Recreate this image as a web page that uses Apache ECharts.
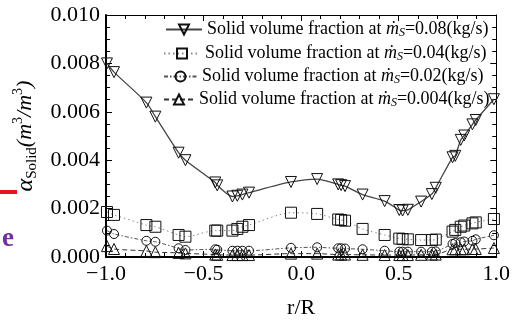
<!DOCTYPE html>
<html><head><meta charset="utf-8">
<script src="https://cdn.jsdelivr.net/npm/echarts@6/dist/echarts.min.js"></script>
<style>html,body{margin:0;padding:0;background:#fff}#c{width:513px;height:326px}</style>
</head><body><div id="c"></div>
<script>
// Radial positions r/R (shared probe positions)
var radius = [-0.995,-0.959,-0.793,-0.747,-0.628,-0.593,-0.44,-0.43,-0.352,-0.327,-0.301,-0.267,-0.052,0.082,0.19,0.205,0.225,0.315,0.428,0.503,0.52,0.547,0.615,0.67,0.69,0.776,0.79,0.818,0.836,0.878,0.895,0.988];
// Solid volume fraction for each mass flow rate
var alpha008 = [0.00800,0.00764,0.00638,0.00580,0.00431,0.00400,0.00308,0.00296,0.00250,0.00253,0.00258,0.00266,0.00310,0.00322,0.00300,0.00297,0.00293,0.00258,0.00231,0.00194,0.00192,0.00195,0.00229,0.00260,0.00286,0.00412,0.00418,0.00484,0.00502,0.00548,0.00566,0.00652];
var alpha004 = [0.00186,0.00174,0.00132,0.00125,0.00091,0.00084,0.00109,0.00109,0.00109,0.00116,0.00125,0.00132,0.00183,0.00178,0.00155,0.00153,0.00150,0.00116,0.00091,0.00076,0.00074,0.00073,0.00070,0.00070,0.00072,0.00105,0.00112,0.00125,0.00130,0.00139,0.00143,0.00157];
var alpha002 = [0.00109,0.00095,0.00067,0.00063,0.00036,0.00029,0.00032,0.00030,0.00026,0.00026,0.00026,0.00026,0.00038,0.00040,0.00036,0.00036,0.00035,0.00032,0.00026,0.00022,0.00022,0.00022,0.00022,0.00022,0.00023,0.00054,0.00058,0.00061,0.00064,0.00067,0.00073,0.00090];
var alpha0004 = [0.00045,0.00033,0.00025,0.00020,0.00017,0.00015,0.00010,0.00009,0.00008,0.00008,0.00008,0.00008,0.00014,0.00014,0.00010,0.00010,0.00010,0.00009,0.00008,0.00008,0.00008,0.00008,0.00009,0.00010,0.00010,0.00032,0.00032,0.00032,0.00032,0.00033,0.00033,0.00037];
var flowRates = ['0.08','0.04','0.02','0.004'];
var xTicks = {min:-1, max:1, interval:0.5};
var yTicks = {min:0, max:0.01, interval:0.002};

function pairs(ys){ return radius.map(function(x,i){ return [x, ys[i]]; }); }
var names = flowRates.map(function(f){ return 'Solid volume fraction at ṁS=' + f + '(kg/s)'; });
var serif = 'Liberation Serif';

var chart = echarts.init(document.getElementById('c'), null, {renderer:'canvas'});
function axisBase(){
  return {
    axisLine:{show:true,onZero:false,lineStyle:{color:'#000',width:1}},
    axisTick:{show:true,inside:true,length:6,lineStyle:{color:'#000',width:1}},
    minorTick:{show:true,length:4,lineStyle:{color:'#000',width:1}},
    splitLine:{show:false},
    axisLabel:{show:false}
  };
}
var xb = axisBase(); xb.type='value'; xb.position='bottom'; xb.min=xTicks.min; xb.max=xTicks.max; xb.interval=xTicks.interval;
xb.axisLine.lineStyle.width=2; xb.minorTick.splitNumber=5;
xb.axisLabel={show:true,margin:6,color:'#000',fontFamily:serif,fontSize:22,
  formatter:function(v){ return (v<0?'\u2212':'')+Math.abs(v).toFixed(1); }};
xb.name='r/R'; xb.nameLocation='middle'; xb.nameGap=40;
xb.nameTextStyle={color:'#000',fontFamily:serif,fontSize:22};
var xt = axisBase(); xt.type='value'; xt.position='top'; xt.min=xTicks.min; xt.max=xTicks.max; xt.interval=xTicks.interval; xt.minorTick.splitNumber=5;
var yl = axisBase(); yl.type='value'; yl.position='left'; yl.min=yTicks.min; yl.max=yTicks.max; yl.interval=yTicks.interval;
yl.axisLine.lineStyle.width=2; yl.minorTick.splitNumber=4;
yl.axisLabel={show:true,margin:6,color:'#000',fontFamily:serif,fontSize:22,
  formatter:function(v){ return v.toFixed(3); }};
yl.name='{a|α}{s|Solid}{b|(m}{p|3}{b|/m}{p|3}{b|)}';
yl.nameLocation='middle'; yl.nameRotate=90; yl.nameGap=62;
yl.nameTextStyle={color:'#000',fontFamily:serif,fontSize:22,rich:{
  a:{fontFamily:serif,fontStyle:'italic',fontSize:24,color:'#000',lineHeight:30},
  s:{fontFamily:serif,fontSize:15,color:'#000',padding:[12,0,0,0],lineHeight:30},
  b:{fontFamily:serif,fontStyle:'italic',fontSize:22,color:'#000',lineHeight:30},
  p:{fontFamily:serif,fontSize:14,color:'#000',padding:[0,0,14,0],lineHeight:30}
}};
var yr = axisBase(); yr.type='value'; yr.position='right'; yr.min=yTicks.min; yr.max=yTicks.max; yr.interval=yTicks.interval; yr.minorTick.splitNumber=4;

var styles = [
  {symbol:'triangle',rotate:180,size:11,line:{color:'#444',width:1.3,type:'solid'},smooth:0.25},
  {symbol:'rect',rotate:0,size:11,line:{color:'#888',width:1,type:[1.5,3]},smooth:0.25},
  {symbol:'circle',rotate:0,size:9,line:{color:'#555',width:1,type:[4,2,1.5,2]},smooth:0.25},
  {symbol:'triangle',rotate:0,size:11,line:{color:'#333',width:1,type:[5,3]},smooth:0.25}
];
var dataSets = [alpha008, alpha004, alpha002, alpha0004];
var series = dataSets.map(function(d,i){
  var st = styles[i];
  return {type:'line', name:names[i], xAxisIndex:0, yAxisIndex:0, data:pairs(d),
    symbol:st.symbol, symbolRotate:st.rotate, symbolSize:st.size, smooth:st.smooth,
    showAllSymbol:true, clip:true,
    lineStyle:st.line,
    itemStyle:{color:'rgba(0,0,0,0)',borderColor:'#111',borderWidth:1},
    emphasis:{disabled:true}, animation:false};
});

var richLegend = {
  t:{fontFamily:serif,fontSize:18,color:'#000',lineHeight:22},
  m:{fontFamily:serif,fontStyle:'italic',fontSize:18,color:'#000',lineHeight:22},
  s:{fontFamily:serif,fontStyle:'italic',fontSize:12,color:'#000',lineHeight:22,padding:[7,0,0,0]}
};
var legendPos = [{left:165,top:20,w:36},{left:163,top:44,w:36},{left:163,top:67,w:33},{left:163,top:90,w:30}];
var legends = legendPos.map(function(p,i){
  return {data:[names[i]], left:p.left, top:p.top, orient:'vertical', padding:0,
    itemWidth:p.w, itemHeight:12.5, selectedMode:false,
    formatter:function(){ return '{t|Solid volume fraction at }{m|ṁ}{s|S}{t|=' + flowRates[i] + '(kg/s)}'; },
    textStyle:{fontFamily:serif,fontSize:18,color:'#000',rich:richLegend}};
});

chart.setOption({
  animation:false,
  backgroundColor:'#fff',
  grid:{left:106,right:14,top:15,bottom:69,containLabel:false},
  xAxis:[xb, xt],
  yAxis:[yl, yr],
  legend:legends,
  series:series,
  graphic:[
    {type:'rect',left:0,top:190,shape:{width:17,height:4},style:{fill:'#e8141b'}},
    {type:'text',left:2,top:226,style:{text:'e',fontFamily:serif,fontWeight:'bold',fontSize:27,fill:'#7030a0'}}
  ]
});
</script></body></html>
